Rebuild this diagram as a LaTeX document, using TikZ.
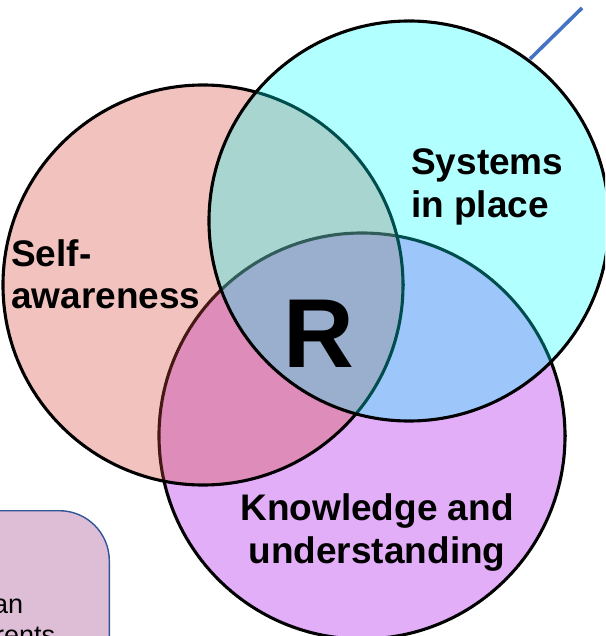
\documentclass[tikz,border=0pt]{standalone}
\usepackage{fontspec}
\setmainfont{Liberation Sans}
\usetikzlibrary{decorations.pathmorphing}

\definecolor{kpurple}{RGB}{226,174,248}
\definecolor{kpink}{RGB}{215,73,58}
\definecolor{kcyan}{RGB}{0,255,255}
\definecolor{callfill}{RGB}{222,190,214}
\definecolor{callline}{RGB}{47,85,151}
\definecolor{pointer}{RGB}{68,114,196}

\tikzset{
  % serrated black rim; the segment length divides the circumference evenly
  rim/.style={draw=black, line width=2.7pt, line join=round, decorate,
    decoration={zigzag, segment length=#1, amplitude=0.6pt}},
  tag/.style={font=\bfseries\fontsize{37}{43}\selectfont, text=black, inner sep=0pt},
  bigtag/.style={font=\bfseries\fontsize{98}{100}\selectfont, text=black, inner sep=0pt},
  smalltag/.style={font=\fontsize{27}{32}\selectfont, text=black, inner sep=0pt},
}

\begin{document}
\begin{tikzpicture}[x=1pt, y=-1pt]
  \useasboundingbox (0,0) rectangle (605,636);
  \clip (0,0) rectangle (605,636);

  % circle centres
  \coordinate (know) at (362,436);
  \coordinate (self) at (203,285);
  \coordinate (sys)  at (409,221);

  % knowledge and understanding (opaque, drawn first)
  \fill[kpurple] (know) circle (203);
  \draw[rim=2.45287pt] (know) circle (203);

  % self-awareness (translucent)
  \fill[kpink, fill opacity=0.33] (self) circle (200);
  \draw[rim=2.41661pt] (self) circle (200);

  % systems in place (translucent)
  \fill[kcyan, fill opacity=0.30] (sys) circle (200);
  \draw[rim=2.41661pt] (sys) circle (200);

  % pointer line leaving the systems circle
  \coordinate (ptrA) at (530,59);
  \coordinate (ptrB) at (582,8);
  \draw[pointer, line width=3.6pt] (ptrA) -- (ptrB);

  % callout box at the lower left
  \node[draw=callline, fill=callfill, line width=1.4pt, rounded corners=50pt,
        minimum width=220pt, minimum height=200pt, anchor=north east, inner sep=0pt]
        (callout) at (110,510) {};
  \node[smalltag, anchor=base west] (callA) at (-7,613) {an};
  \node[smalltag, anchor=base west] (callB) at (-5,644) {rents};

  % labels
  \node[tag, anchor=base west] (selfA) at (11,266) {Self-};
  \node[tag, anchor=base west] (selfB) at (11,308) {awareness};
  \node[tag, anchor=base west] (sysA) at (411,175) {Systems};
  \node[tag, anchor=base west] (sysB) at (411,218) {in place};
  \node[tag, anchor=base] (knowA) at (377,520) {Knowledge and};
  \node[tag, anchor=base] (knowB) at (377,563) {understanding};
  \node[bigtag, anchor=base] (core) at (319,367) {R};
\end{tikzpicture}
\end{document}
